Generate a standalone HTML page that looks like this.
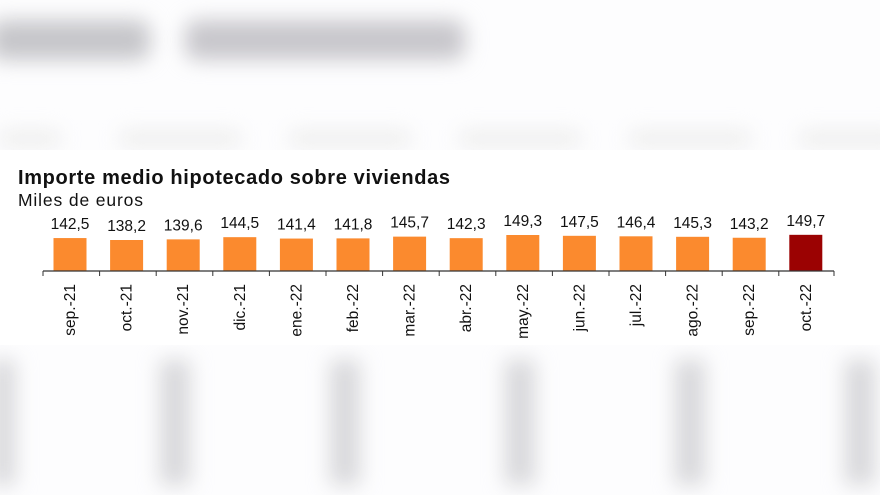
<!DOCTYPE html>
<html><head><meta charset="utf-8"><style>
html,body{margin:0;padding:0;width:880px;height:495px;overflow:hidden;background:#fdfdfe;font-family:"Liberation Sans",Arial,sans-serif;}
.b{position:absolute;filter:blur(10px);}
</style></head><body>
<div class="b" style="left:-10px;top:20px;width:160px;height:40px;background:#c6c6ca;border-radius:12px"></div>
<div class="b" style="left:185px;top:20px;width:280px;height:40px;background:#c8c7cc;border-radius:12px"></div>
<div class="b" style="left:0px;top:132px;width:60px;height:14px;background:#ebebeb"></div>
<div class="b" style="left:120px;top:132px;width:120px;height:14px;background:#ebebeb"></div>
<div class="b" style="left:290px;top:132px;width:120px;height:14px;background:#ebebeb"></div>
<div class="b" style="left:460px;top:132px;width:120px;height:14px;background:#ebebeb"></div>
<div class="b" style="left:630px;top:132px;width:120px;height:14px;background:#ebebeb"></div>
<div class="b" style="left:800px;top:132px;width:100px;height:14px;background:#ebebeb"></div>
<div class="b" style="left:-10px;top:360px;width:25px;height:125px;background:#d8d8db"></div>
<div class="b" style="left:160px;top:360px;width:30px;height:125px;background:#d8d8db"></div>
<div class="b" style="left:330px;top:360px;width:30px;height:125px;background:#d8d8db"></div>
<div class="b" style="left:505px;top:360px;width:30px;height:125px;background:#d8d8db"></div>
<div class="b" style="left:675px;top:360px;width:30px;height:125px;background:#d8d8db"></div>
<div class="b" style="left:845px;top:360px;width:30px;height:125px;background:#d8d8db"></div>
<svg width="880" height="495" style="position:absolute;left:0;top:0">
<rect x="0" y="150" width="880" height="195" fill="#ffffff"/>
<text x="18" y="184" font-size="20" font-weight="bold" fill="#111" textLength="432">Importe medio hipotecado sobre viviendas</text>
<text x="18" y="206" font-size="17.5" fill="#111" textLength="125">Miles de euros</text>
<g font-size="15.5" fill="#111" text-anchor="middle" id="g"></g>
<line x1="43" y1="271" x2="834" y2="271" stroke="#333" stroke-width="1.2"/>
</svg>
<script>
var v=[142.5,138.2,139.6,144.5,141.4,141.8,145.7,142.3,149.3,147.5,146.4,145.3,143.2,149.7];
var l=["sep.-21","oct.-21","nov.-21","dic.-21","ene.-22","feb.-22","mar.-22","abr.-22","may.-22","jun.-22","jul.-22","ago.-22","sep.-22","oct.-22"];
var s='';
for(var i=0;i<14;i++){var cx=70+i*56.6;var h=31+(v[i]-138.2)*0.45;
s+='<rect x="'+(cx-16.5)+'" y="'+(271-h)+'" width="33" height="'+h+'" fill="'+(i==13?'#9b0202':'#fb8a2e')+'"/>';
s+='<text x="'+cx+'" y="'+(271-h-9)+'">'+v[i].toFixed(1).replace('.',',')+'</text>';
s+='<text transform="translate('+(cx+5)+',284) rotate(-90)" text-anchor="end">'+l[i]+'</text>';
var tx=43+i*56.6;s+='<line x1="'+tx+'" y1="271" x2="'+tx+'" y2="276" stroke="#333"/>';}
s+='<line x1="834" y1="271" x2="834" y2="276" stroke="#333"/>';
document.getElementById('g').innerHTML=s;
</script>
</body></html>
